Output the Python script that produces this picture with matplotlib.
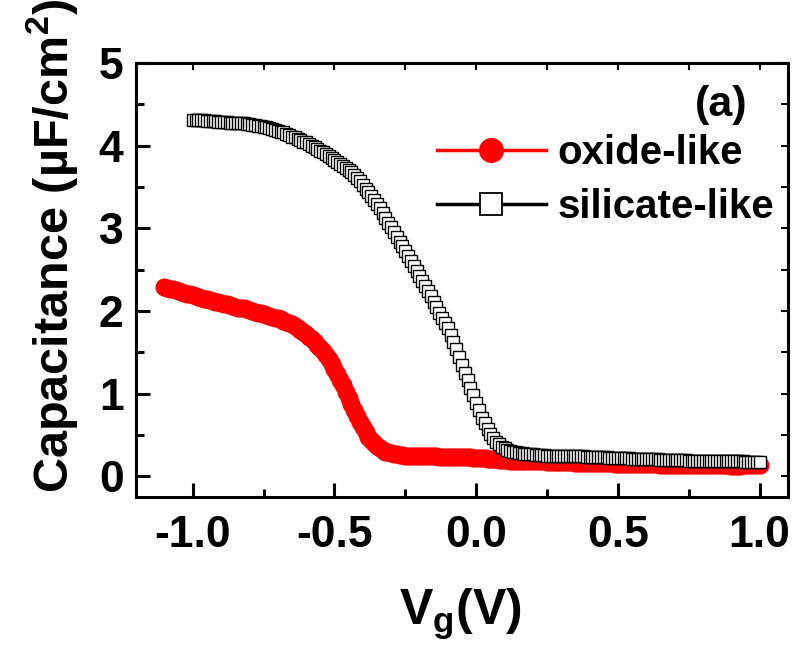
import numpy as np
import matplotlib
matplotlib.use('Agg')
import matplotlib.pyplot as plt

plt.rcParams['font.family'] = ['Liberation Sans', 'DejaVu Sans']
plt.rcParams['font.weight'] = 'bold'
plt.rcParams['mathtext.fontset'] = 'custom'
plt.rcParams['mathtext.rm'] = 'Liberation Sans:bold'
plt.rcParams['mathtext.bf'] = 'Liberation Sans:bold'
plt.rcParams['mathtext.it'] = 'Liberation Sans:bold'

# gate voltage sweeps (V), 0.01 V steps
vg_oxide = np.round(np.arange(-1.10, 1.0001, 0.01), 2)
vg_silicate = np.round(np.arange(-1.00, 1.0001, 0.01), 2)

# capacitance (uF/cm^2)
c_oxide = [
    2.29, 2.28, 2.27, 2.26, 2.25, 2.24, 2.23, 2.22, 2.21, 2.20,
    2.19, 2.18, 2.17, 2.16, 2.15, 2.14, 2.13, 2.12, 2.11, 2.11,
    2.10, 2.09, 2.08, 2.07, 2.06, 2.05, 2.04, 2.04, 2.03, 2.02,
    2.01, 2.00, 1.99, 1.98, 1.97, 1.96, 1.95, 1.94, 1.93, 1.92,
    1.91, 1.90, 1.88, 1.87, 1.85, 1.84, 1.82, 1.80, 1.77, 1.75,
    1.72, 1.69, 1.66, 1.63, 1.59, 1.55, 1.51, 1.47, 1.42, 1.36,
    1.30, 1.24, 1.17, 1.10, 1.02, 0.95, 0.87, 0.80, 0.73, 0.66,
    0.60, 0.54, 0.48, 0.44, 0.40, 0.37, 0.34, 0.32, 0.30, 0.29,
    0.28, 0.27, 0.27, 0.26, 0.26, 0.25, 0.25, 0.25, 0.25, 0.25,
    0.24, 0.24, 0.24, 0.24, 0.24, 0.24, 0.24, 0.23, 0.23, 0.23,
    0.23, 0.23, 0.23, 0.23, 0.23, 0.23, 0.23, 0.23, 0.23, 0.22,
    0.22, 0.22, 0.22, 0.22, 0.21, 0.21, 0.21, 0.21, 0.20, 0.20,
    0.20, 0.20, 0.19, 0.19, 0.19, 0.19, 0.19, 0.18, 0.18, 0.18,
    0.18, 0.18, 0.18, 0.18, 0.18, 0.17, 0.17, 0.17, 0.17, 0.17,
    0.17, 0.17, 0.17, 0.17, 0.17, 0.16, 0.16, 0.16, 0.16, 0.16,
    0.16, 0.16, 0.16, 0.16, 0.16, 0.16, 0.16, 0.16, 0.16, 0.15,
    0.15, 0.15, 0.15, 0.15, 0.15, 0.15, 0.15, 0.15, 0.15, 0.15,
    0.15, 0.15, 0.15, 0.15, 0.15, 0.14, 0.14, 0.14, 0.14, 0.14,
    0.14, 0.14, 0.14, 0.14, 0.14, 0.14, 0.14, 0.14, 0.14, 0.14,
    0.14, 0.14, 0.14, 0.14, 0.14, 0.14, 0.14, 0.14, 0.14, 0.14,
    0.13, 0.13, 0.13, 0.13, 0.14, 0.14, 0.14, 0.14, 0.14, 0.14,
    0.14,
]
c_silicate = [
    4.31, 4.31, 4.31, 4.31, 4.31, 4.30, 4.30, 4.30, 4.30, 4.29,
    4.29, 4.29, 4.29, 4.28, 4.28, 4.27, 4.27, 4.27, 4.27, 4.26,
    4.26, 4.25, 4.25, 4.24, 4.24, 4.23, 4.22, 4.21, 4.20, 4.19,
    4.18, 4.17, 4.16, 4.14, 4.13, 4.11, 4.10, 4.08, 4.07, 4.05,
    4.04, 4.02, 4.00, 3.98, 3.96, 3.94, 3.92, 3.90, 3.88, 3.85,
    3.83, 3.80, 3.78, 3.75, 3.73, 3.70, 3.68, 3.64, 3.61, 3.57,
    3.53, 3.48, 3.44, 3.39, 3.34, 3.29, 3.24, 3.18, 3.13, 3.07,
    3.01, 2.95, 2.90, 2.84, 2.78, 2.72, 2.66, 2.60, 2.54, 2.48,
    2.42, 2.36, 2.30, 2.24, 2.18, 2.11, 2.05, 1.98, 1.92, 1.85,
    1.79, 1.71, 1.63, 1.54, 1.44, 1.35, 1.25, 1.16, 1.07, 0.98,
    0.89, 0.80, 0.71, 0.64, 0.57, 0.51, 0.46, 0.42, 0.39, 0.36,
    0.34, 0.32, 0.31, 0.30, 0.29, 0.28, 0.28, 0.27, 0.27, 0.27,
    0.27, 0.26, 0.26, 0.26, 0.26, 0.25, 0.25, 0.25, 0.25, 0.25,
    0.25, 0.25, 0.25, 0.24, 0.24, 0.24, 0.24, 0.24, 0.24, 0.23,
    0.23, 0.23, 0.23, 0.23, 0.23, 0.23, 0.23, 0.22, 0.22, 0.22,
    0.22, 0.22, 0.22, 0.22, 0.22, 0.21, 0.21, 0.21, 0.21, 0.21,
    0.21, 0.21, 0.21, 0.21, 0.21, 0.20, 0.20, 0.20, 0.20, 0.20,
    0.20, 0.20, 0.20, 0.20, 0.20, 0.19, 0.19, 0.19, 0.19, 0.19,
    0.19, 0.19, 0.19, 0.19, 0.19, 0.18, 0.18, 0.18, 0.18, 0.18,
    0.18, 0.18, 0.18, 0.18, 0.18, 0.17, 0.17, 0.17, 0.17, 0.17,
    0.17,
]
labels = ['oxide-like', 'silicate-like']

fig = plt.figure(figsize=(7.94, 6.46), dpi=100)
ax = fig.add_axes([0.1713, 0.2307, 0.8211, 0.6718])

ax.plot(vg_oxide, c_oxide, '-o', color='red', lw=2.5, ms=12,
        mfc='red', mec='red', label=labels[0], zorder=2)
ax.plot(vg_silicate, c_silicate, '-s', color='black', lw=2.5, ms=8.5,
        mfc='white', mec='black', mew=1.0, label=labels[1], zorder=3)

ax.set_xlim(-1.2, 1.1)
ax.set_ylim(-0.25, 5.0)
ax.set_xticks([-1.0, -0.5, 0.0, 0.5, 1.0])
ax.set_xticks(np.arange(-0.75, 1.0, 0.5), minor=True)
ax.set_yticks([0, 1, 2, 3, 4, 5])
ax.set_yticks(np.arange(0.5, 5, 1.0), minor=True)
ax.set_xticklabels(['-1.0', '-0.5', '0.0', '0.5', '1.0'])
ax.tick_params(axis='both', which='major', direction='in', length=10,
               width=2.2, labelsize=32)
ax.tick_params(axis='both', which='minor', direction='in', length=5.5,
               width=2.2)
ax.tick_params(axis='x', which='major', pad=13)
ax.tick_params(axis='y', which='major', pad=9)
for sp in ax.spines.values():
    sp.set_linewidth(2.2)

# small ticks on top and right
top = ax.secondary_xaxis('top')
top.set_xticks(np.arange(-1.0, 1.01, 0.25))
top.tick_params(direction='in', length=5, width=1.5, labeltop=False)
right = ax.secondary_yaxis('right')
right.set_yticks(np.arange(0, 5.01, 0.5))
right.tick_params(direction='in', length=5, width=1.5, labelright=False)

fig.text(52 / 794, 1 - 246 / 646, r'Capacitance (µF/cm$^\mathregular{2}$)',
         rotation=90, ha='center', va='center', fontsize=35,
         fontweight='bold')
fig.text(460 / 794, 1 - 625 / 646, r'$\mathregular{V_g(V)}$',
         ha='center', va='baseline', fontsize=36, fontweight='bold')

ax.text(0.897, 0.903, '(a)', transform=ax.transAxes, ha='center',
        va='center', fontsize=31, fontweight='bold')

leg = ax.legend(loc='upper left', bbox_to_anchor=(437 / 794, 1 - 134 / 646),
                bbox_transform=fig.transFigure, frameon=False, fontsize=29,
                handlelength=2.7, handletextpad=0.3, labelspacing=0.4,
                borderpad=0, borderaxespad=0)
leg.legend_handles[0].set_markersize(17)
leg.legend_handles[1].set_markersize(16)
leg.legend_handles[1].set_markeredgewidth(1.3)

fig.savefig('out.png', dpi=100)
